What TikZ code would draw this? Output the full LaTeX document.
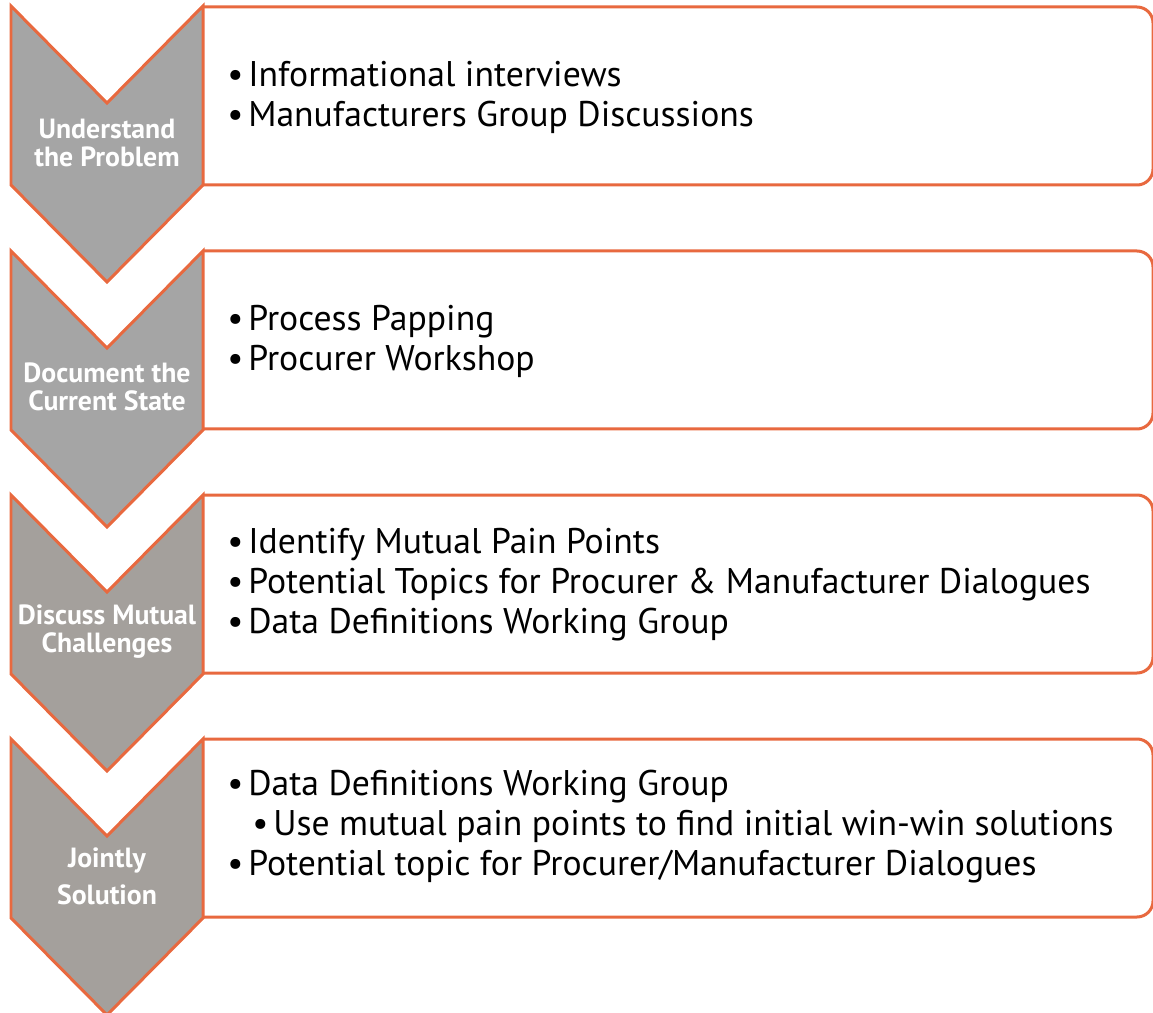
\documentclass[tikz,border=0pt]{standalone}
\usepackage{fontspec}
\setmainfont{PT Sans}
\usetikzlibrary{calc}
\definecolor{edge}{HTML}{E8693F}
\definecolor{stoneA}{HTML}{A5A5A5}
\definecolor{stoneB}{HTML}{A4A09C}
\def\chevron[#1](#2){\draw[#1] (11,#2) -- (107,#2+97) -- (203,#2) -- (203,#2+179) -- (107,#2+276) -- (11,#2+179) -- cycle;}
\def\stagebox(#1){\draw[boxline] (203,#1) -- (1153,#1) -- (1153,#1+178) -- (203,#1+178);}
\newcommand\bul{\makebox[0.42cm][l]{\textbullet}}
\tikzset{
  boxline/.style={draw=edge, line width=0.06cm, rounded corners=0.32cm},
  chev/.style={draw=edge, line width=0.06cm, line join=miter},
  lbl/.style={text=white, inner sep=0pt, align=center, font=\bfseries\fontsize{15.8}{15.9}\selectfont},
  items/.style={anchor=west, inner sep=0pt, align=left, font=\fontsize{20.3}{22.8}\selectfont}
}

\begin{document}
\begin{tikzpicture}[x=0.02cm, y=-0.02cm]
			%%%%% START %%%%%
			\useasboundingbox (0,0) rectangle (1153,1013);
			
			\chevron[chev, fill=stoneA](6)
			\chevron[chev, fill=stoneA](251)
			\chevron[chev, fill=stoneB](495)
			\chevron[chev, fill=stoneB](739)
			
			\stagebox(7)
			\stagebox(251)
			\stagebox(495)
			\stagebox(739)
			
			\node[lbl] (understand) at (107,143) {Understand\\the Problem};
			\node[lbl] (document) at (107,387) {Document the\\Current State};
			\node[lbl] (discuss) at (107,632) {Discuss Mutual\\Challenges};
			\node[lbl, font=\bfseries\fontsize{15.8}{21}\selectfont] (jointly) at (107,876) {Jointly\\Solution};
			
			\node[items] (items1) at (227,97) {\bul Informational interviews\\\bul Manufacturers Group Discussions};
			\node[items] (items2) at (227,341) {\bul Process Papping\\\bul Procurer Workshop};
			\node[items] (items3) at (227,585) {\bul Identify Mutual Pain Points\\\bul Potential Topics for Procurer \& Manufacturer Dialogues\\\bul Data Definitions Working Group};
			\node[items] (items4) at (227,827) {\bul Data Definitions Working Group\\\hspace*{0.5cm}\bul Use mutual pain points to find initial win-win solutions\\\bul Potential topic for Procurer/Manufacturer Dialogues};
			
			%%%%% END %%%%%
		\end{tikzpicture}
\end{document}
